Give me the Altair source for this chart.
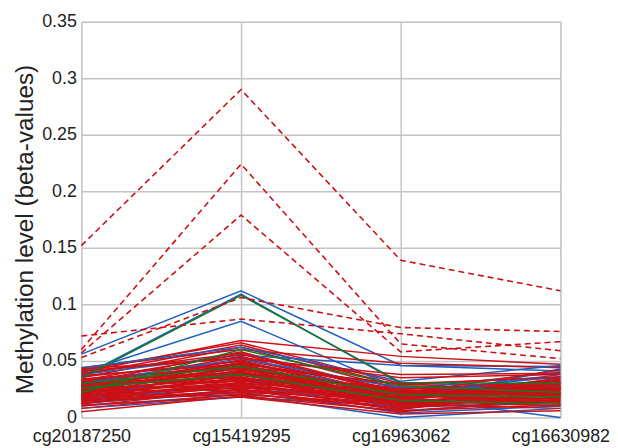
import altair as alt
import pandas as pd

CATEGORIES = ["cg20187250", "cg15419295", "cg16963062", "cg16630982"]

# each row: values at the four CpG sites
DASHED_LINES = [
    [0.152, 0.290, 0.139, 0.112],
    [0.060, 0.224, 0.065, 0.052],
    [0.057, 0.179, 0.058, 0.067],
    [0.053, 0.106, 0.0795, 0.076],
    [0.072, 0.087, 0.074, 0.059],
]

GREEN_LINES = [
    [0.035, 0.108, 0.031, 0.030],
    [0.022, 0.060, 0.028, 0.022],
    [0.030, 0.045, 0.020, 0.018],
    [0.026, 0.038, 0.015, 0.012],
]

BLUE_LINES = [
    [0.056, 0.112, 0.046, 0.045],
    [0.036, 0.109, 0.030, 0.028],
    [0.040, 0.085, 0.025, 0.040],
    [0.044, 0.062, 0.032, 0.046],
    [0.038, 0.055, 0.046, 0.041],
    [0.032, 0.050, 0.020, 0.038],
    [0.028, 0.047, 0.015, 0.030],
    [0.025, 0.043, 0.012, 0.025],
    [0.020, 0.040, 0.010, 0.020],
    [0.018, 0.035, 0.008, 0.033],
    [0.015, 0.030, 0.006, 0.015],
    [0.012, 0.025, 0.004, 0.010],
    [0.010, 0.020, 0.000, 0.008],
    [0.013, 0.022, 0.018, 0.000],
    [0.022, 0.033, 0.022, 0.036],
    [0.016, 0.027, 0.014, 0.043],
    [0.030, 0.052, 0.026, 0.027],
    [0.008, 0.018, 0.010, 0.012],
]

RED_LINES = [
    [0.040, 0.068, 0.054, 0.047],
    [0.042, 0.066, 0.030, 0.035],
    [0.038, 0.064, 0.028, 0.025],
    [0.035, 0.062, 0.025, 0.030],
    [0.044, 0.060, 0.048, 0.044],
    [0.030, 0.058, 0.022, 0.028],
    [0.033, 0.056, 0.020, 0.022],
    [0.028, 0.054, 0.018, 0.032],
    [0.041, 0.053, 0.035, 0.038],
    [0.025, 0.051, 0.024, 0.020],
    [0.036, 0.050, 0.016, 0.026],
    [0.022, 0.049, 0.019, 0.034],
    [0.031, 0.048, 0.027, 0.018],
    [0.027, 0.047, 0.013, 0.024],
    [0.020, 0.046, 0.021, 0.029],
    [0.034, 0.045, 0.030, 0.022],
    [0.024, 0.044, 0.017, 0.031],
    [0.029, 0.043, 0.011, 0.027],
    [0.018, 0.042, 0.023, 0.019],
    [0.026, 0.041, 0.015, 0.035],
    [0.032, 0.040, 0.019, 0.025],
    [0.021, 0.039, 0.026, 0.021],
    [0.016, 0.038, 0.012, 0.028],
    [0.023, 0.037, 0.020, 0.016],
    [0.028, 0.036, 0.009, 0.023],
    [0.019, 0.035, 0.017, 0.030],
    [0.025, 0.034, 0.022, 0.026],
    [0.014, 0.033, 0.014, 0.020],
    [0.030, 0.032, 0.018, 0.033],
    [0.017, 0.031, 0.010, 0.017],
    [0.022, 0.030, 0.024, 0.024],
    [0.012, 0.029, 0.013, 0.014],
    [0.027, 0.028, 0.016, 0.029],
    [0.015, 0.027, 0.008, 0.021],
    [0.020, 0.026, 0.020, 0.012],
    [0.010, 0.025, 0.011, 0.018],
    [0.024, 0.024, 0.007, 0.025],
    [0.013, 0.023, 0.015, 0.010],
    [0.018, 0.022, 0.005, 0.016],
    [0.008, 0.021, 0.009, 0.013],
    [0.016, 0.020, 0.012, 0.008],
    [0.005, 0.019, 0.006, 0.011],
    [0.011, 0.018, 0.003, 0.006],
    [0.019, 0.028, 0.014, 0.019],
    [0.026, 0.038, 0.025, 0.032],
    [0.033, 0.044, 0.020, 0.027],
    [0.037, 0.047, 0.029, 0.036],
    [0.021, 0.033, 0.011, 0.022],
    [0.014, 0.024, 0.018, 0.024],
    [0.029, 0.039, 0.016, 0.015],
    [0.043, 0.052, 0.038, 0.039],
    [0.023, 0.045, 0.013, 0.026],
    [0.017, 0.030, 0.021, 0.030],
    [0.031, 0.035, 0.023, 0.020],
    [0.039, 0.057, 0.021, 0.042],
]

Y_TICKS = [0, 0.05, 0.1, 0.15, 0.2, 0.25, 0.3, 0.35]

# build long table; interleave blue and red so draw order is mixed
ordered = []
bi = 0
for i, r in enumerate(RED_LINES):
    if i % 3 == 0 and bi < len(BLUE_LINES):
        ordered.append(("blue", BLUE_LINES[bi]))
        bi += 1
    ordered.append(("red", r))
    if i % 3 == 1 and bi < len(BLUE_LINES):
        ordered.append(("blue", BLUE_LINES[bi]))
        bi += 1
while bi < len(BLUE_LINES):
    ordered.append(("blue", BLUE_LINES[bi]))
    bi += 1
for g in GREEN_LINES:
    ordered.append(("green", g))

rows = []
for lid, (grp, vals) in enumerate(ordered):
    for c, v in zip(CATEGORIES, vals):
        rows.append({"id": lid, "group": grp, "site": c, "value": v})
solid_df = pd.DataFrame(rows)

drows = []
for lid, vals in enumerate(DASHED_LINES):
    for c, v in zip(CATEGORIES, vals):
        drows.append({"id": 1000 + lid, "group": "dashed", "site": c, "value": v})
dashed_df = pd.DataFrame(drows)

FONT = "Liberation Sans"

x_enc = alt.X(
    "site:N",
    sort=CATEGORIES,
    scale=alt.Scale(type="point", padding=0),
    axis=alt.Axis(
        title=None, labelAngle=0, labelFontSize=18, labelFont=FONT,
        labelColor="#222", ticks=False, labelPadding=10, domain=False,
        grid=True, gridColor="#c4c4c4", gridWidth=1.5,
    ),
)
y_enc = alt.Y(
    "value:Q",
    scale=alt.Scale(domain=[0, 0.35], nice=False, zero=True),
    axis=alt.Axis(
        title="Methylation level (beta-values)", titleFontSize=24.5,
        titleFont=FONT, titleFontWeight="normal", titleColor="#222",
        titlePadding=4, titleY=209, values=Y_TICKS, format="~g",
        labelFontSize=18, labelFont=FONT, labelColor="#222", ticks=False,
        labelPadding=5, domain=False, grid=True, gridColor="#c4c4c4",
        gridWidth=1.5,
    ),
)

color_scale = alt.Scale(
    domain=["red", "blue", "green", "dashed"],
    range=["#cc1016", "#1f5fbf", "#117a22", "#cc1016"],
)

solid = alt.Chart(solid_df).mark_line(strokeWidth=1.5).encode(
    x=x_enc, y=y_enc,
    color=alt.Color("group:N", scale=color_scale, legend=None),
    detail="id:N",
)

dashed = alt.Chart(dashed_df).mark_line(strokeWidth=1.6, strokeDash=[6, 4]).encode(
    x=x_enc, y=y_enc,
    color=alt.Color("group:N", scale=color_scale, legend=None),
    detail="id:N",
)

chart = alt.layer(solid, dashed).properties(
    width=483, height=399,
    padding={"left": 4, "top": 3, "right": 0, "bottom": 0},
).configure_view(stroke="#444444", strokeWidth=1.5).configure(background="white")

chart.save("out.html", embed_options={"renderer": "svg", "actions": False})
